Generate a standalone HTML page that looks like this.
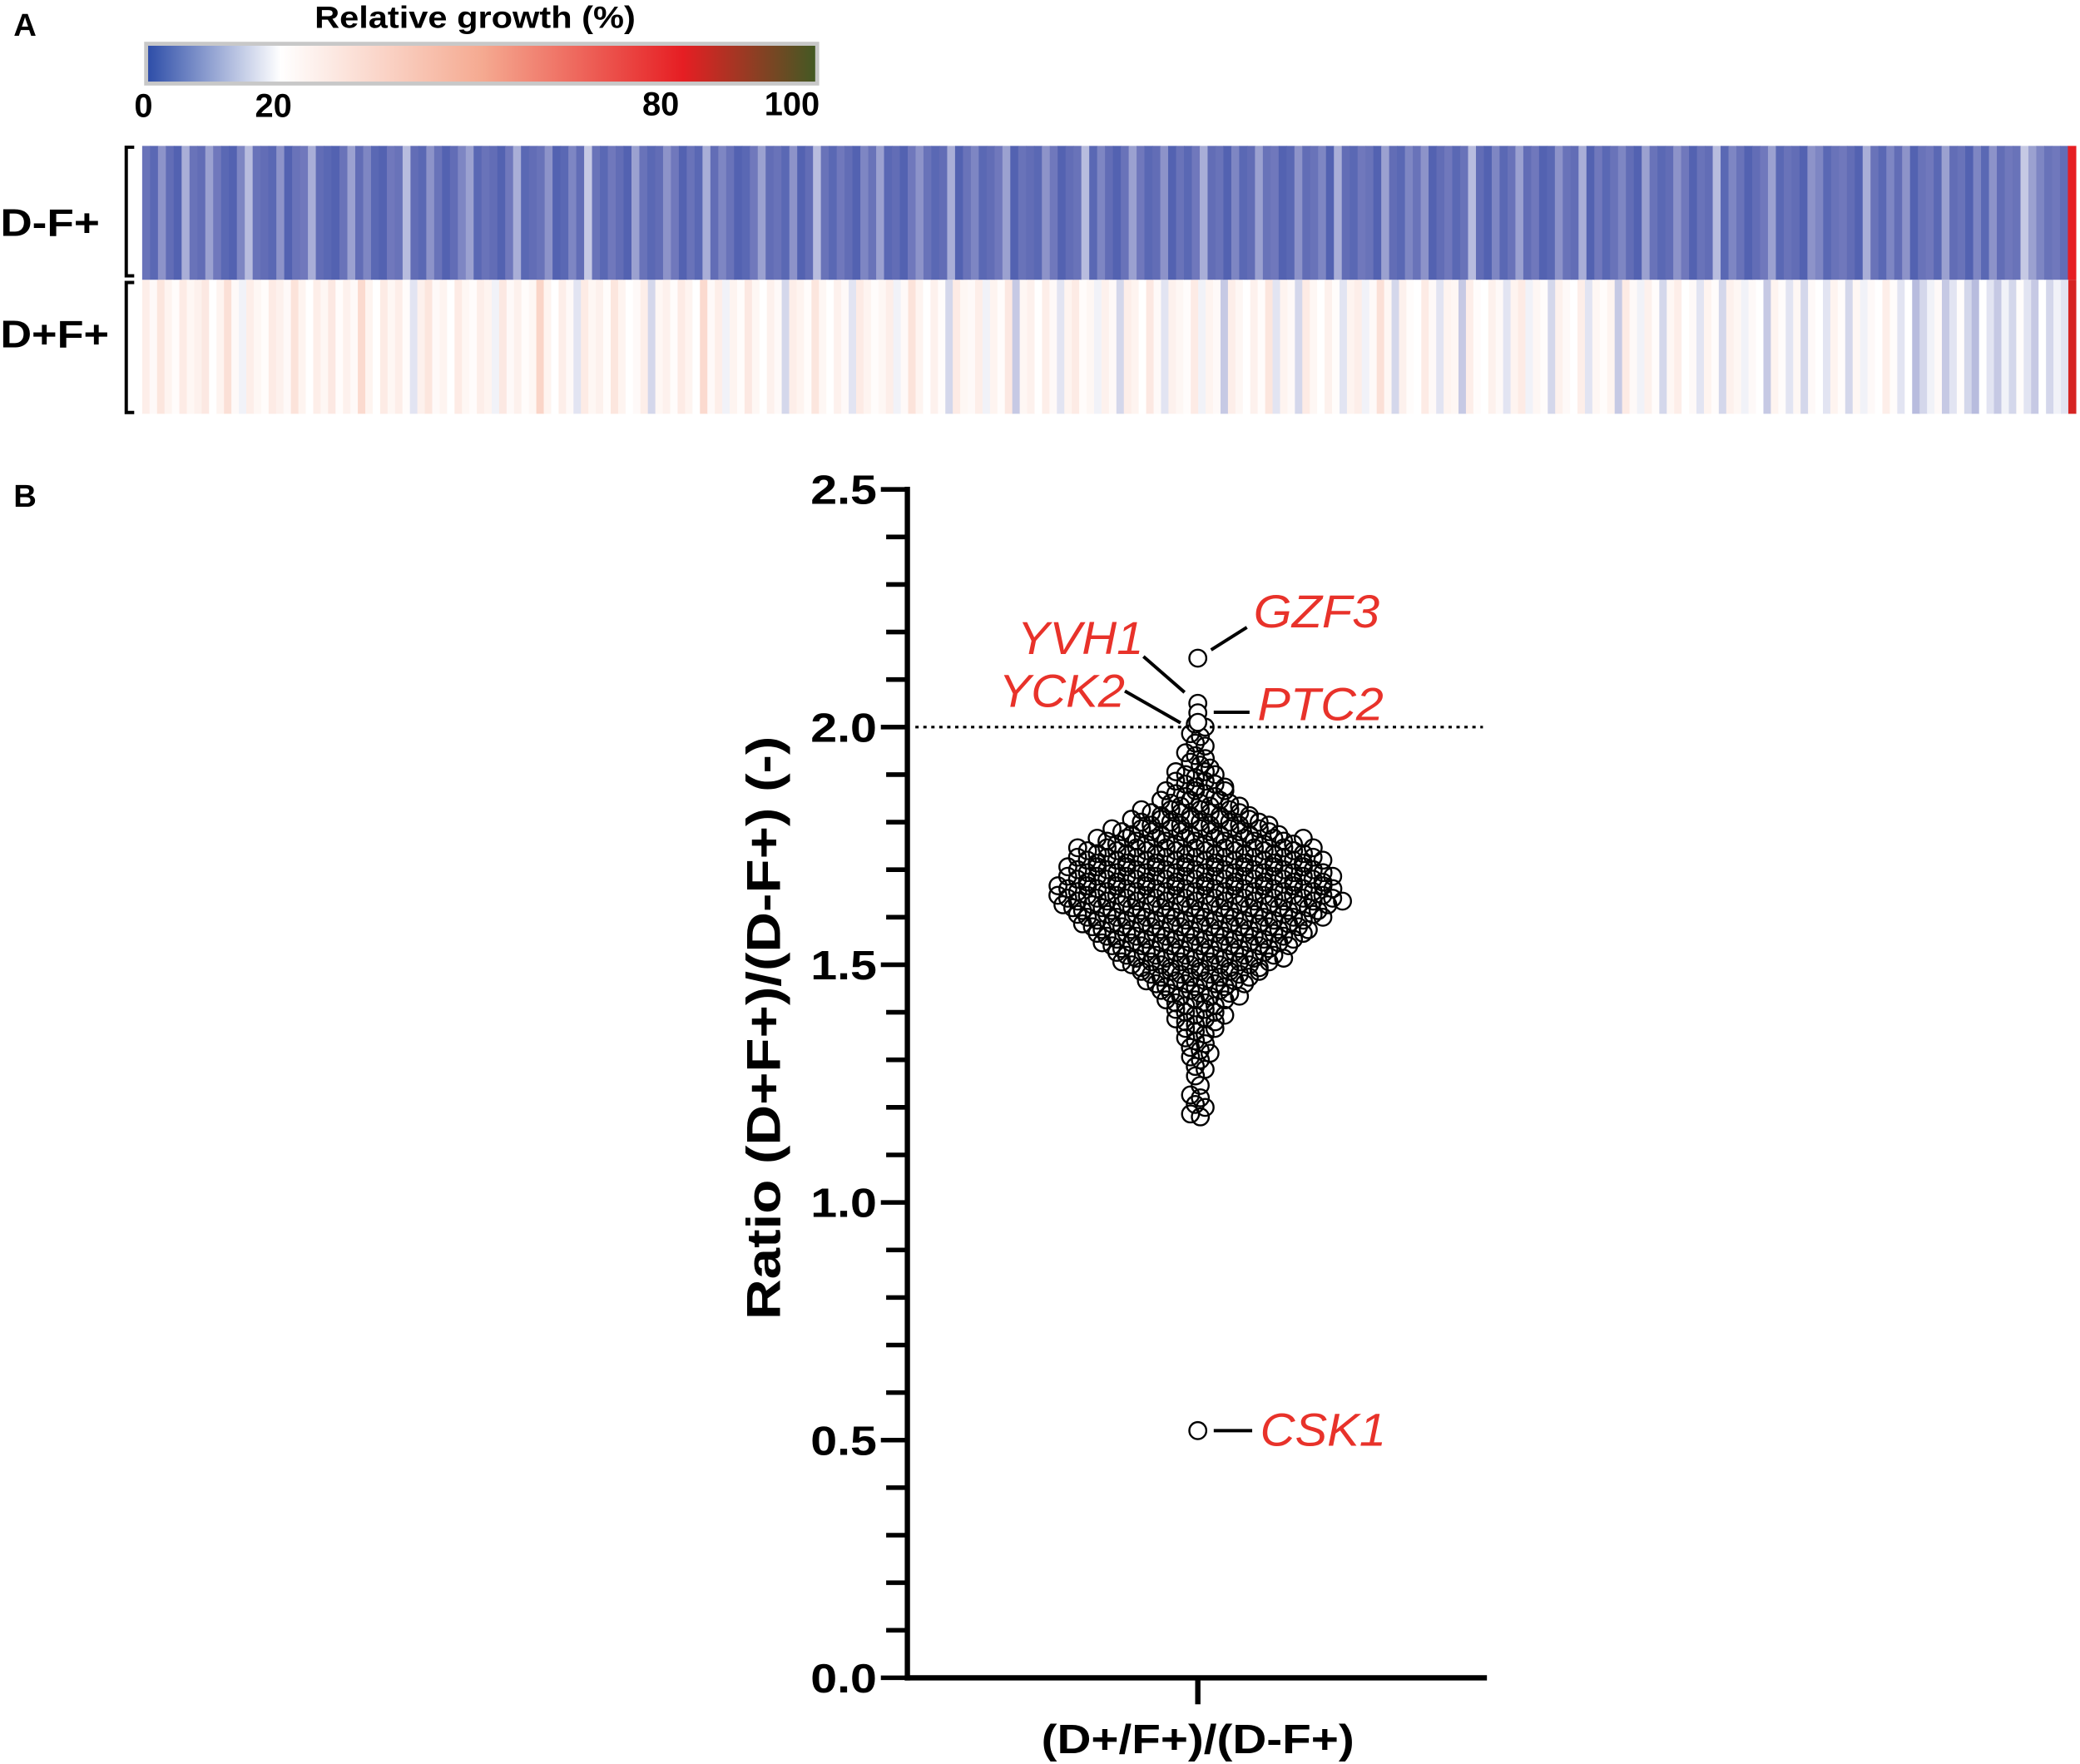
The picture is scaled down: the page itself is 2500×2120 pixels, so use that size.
<!DOCTYPE html>
<html><head><meta charset="utf-8"><style>
html,body{margin:0;padding:0;background:#fff}
svg{display:block}
text{font-family:"Liberation Sans",sans-serif}
</style></head><body>
<svg id="fig" width="2500" height="2120" viewBox="0 0 1568 1330" xmlns="http://www.w3.org/2000/svg">
<defs>
<linearGradient id="cbar" x1="0" x2="1" y1="0" y2="0">
<stop offset="0" stop-color="#2b4ba7"/><stop offset="0.2" stop-color="#ffffff"/><stop offset="0.5" stop-color="#f5aa91"/><stop offset="0.8" stop-color="#e61e23"/><stop offset="1" stop-color="#415a23"/>
</linearGradient>
</defs>
<text x="10" y="27" font-size="24" font-weight="bold">A</text>
<text x="358" y="21" font-size="23" font-weight="bold" text-anchor="middle" textLength="242" lengthAdjust="spacingAndGlyphs">Relative growth (%)</text>
<rect x="110" y="33" width="506" height="30" fill="url(#cbar)" stroke="#c8c8c8" stroke-width="3"/>
<g font-size="25" font-weight="bold" text-anchor="middle">
<text x="108" y="88">0</text><text x="206" y="88">20</text><text x="498" y="87">80</text><text x="597" y="87">100</text>
</g>
<g id="heat"></g>
<g stroke="#000" stroke-width="2.5" fill="none">
<path d="M101,111 H95 V208 H101"/><path d="M101,213 H95 V311 H101"/>
</g>
<text x="0" y="178" font-size="29" font-weight="bold" textLength="75" lengthAdjust="spacingAndGlyphs">D-F+</text>
<text x="0" y="262" font-size="29" font-weight="bold" textLength="82" lengthAdjust="spacingAndGlyphs">D+F+</text>

<text x="10" y="382" font-size="24" font-weight="bold">B</text>
<g id="axes"></g>
<g id="swarm"></g>
<g id="ann"></g>
<text transform="translate(588,775) rotate(-90)" font-size="36" font-weight="bold" text-anchor="middle" textLength="440" lengthAdjust="spacingAndGlyphs">Ratio (D+F+)/(D-F+) (-)</text>
<text x="903" y="1322" font-size="31" font-weight="bold" text-anchor="middle" textLength="236" lengthAdjust="spacingAndGlyphs">(D+/F+)/(D-F+)</text>
</svg>
<script>
const heatRowDF=[9,7,12,8,6,14,9,8,13,10,7,6,11,15,9,8,7,12,6,9,10,14,8,7,6,9,13,8,11,7,6,10,9,15,8,7,12,9,6,8,11,13,7,9,8,6,10,14,7,8,9,12,6,7,11,8,16,9,7,10,8,6,13,9,7,8,12,10,6,9,7,14,8,11,9,6,7,10,13,8,9,7,12,6,8,15,9,7,10,8,6,11,9,13,7,8,6,10,12,9,7,8,14,6,9,11,7,8,10,13,6,9,8,7,12,10,6,8,9,15,7,11,8,6,9,13,10,7,8,12,6,9,7,10,14,8,9,6,11,7,8,13,9,10,6,7,12,8,9,11,6,14,8,7,10,9,6,13,8,7,11,9,12,6,8,10,7,9,15,8,6,11,7,9,13,8,10,6,7,12,9,8,14,6,10,7,9,11,8,6,13,9,7,8,12,10,6,9,8,15,7,11,9,6,8,10,13,7,9,8,6,12,11,7,9,10,8,6,14,9,7,11,8,12,6,9,10,7,13,8,9,6,11,7,12,8,10,9,16,13,11,9,10,8,80];
const heatRowDpF=[26,22,29,24,21,27,23,25,28,20,24,31,22,19,26,23,21,27,25,22,30,24,20,26,23,28,21,25,22,33,24,20,27,23,26,21,18,25,29,22,24,20,27,23,21,26,24,19,28,22,25,21,23,35,24,20,26,22,18,27,23,25,21,29,24,20,22,26,17,23,25,21,27,24,20,33,22,26,19,24,21,28,23,20,25,22,17,26,24,21,29,23,20,25,22,18,27,24,21,23,26,19,22,30,24,20,25,21,17,27,23,22,26,19,24,21,28,16,23,25,20,26,22,18,24,27,21,23,19,25,22,17,26,24,20,28,22,18,25,23,21,27,19,24,22,16,26,23,20,25,21,29,18,24,22,17,27,23,20,25,21,18,24,26,19,22,31,23,17,25,21,20,27,22,18,24,23,16,26,21,20,25,22,18,24,27,19,23,21,17,25,22,20,26,18,23,21,24,16,27,22,19,25,21,17,23,26,20,22,18,24,21,17,25,23,19,22,20,16,24,21,18,23,17,22,20,18,24,21,17,23,19,22,20,26,21,18,20,15,17,19,22,16,18,21,17,15,20,18,16,19,17,21,18,16,20,17,19,18,82];
const binValues=[1.18,1.20,1.22,1.24,1.26,1.28,1.30,1.32,1.34,1.36,1.38,1.40,1.42,1.44,1.46,1.48,1.50,1.52,1.54,1.56,1.58,1.60,1.62,1.64,1.66,1.68,1.70,1.72,1.74,1.76,1.78,1.80,1.82,1.84,1.86,1.88,1.90,1.92,1.94,1.96,1.98,2.00];
const binCounts=[2,2,2,1,1,2,2,3,3,4,5,6,7,9,11,13,16,18,20,22,24,26,28,30,29,28,27,26,25,22,18,15,12,9,7,6,5,3,3,2,2,2];
const labeledNames=["GZF3","YVH1","PTC2","YCK2","CSK1"];
const labeledValues=[2.145,2.05,2.03,2.01,0.52];
const yTickLabels=["0.0","0.5","1.0","1.5","2.0","2.5"];
const yTickValues=[0,0.5,1,1.5,2,2.5];

const NS="http://www.w3.org/2000/svg";
function mk(tag,attrs,parent){const e=document.createElementNS(NS,tag);for(const k in attrs)e.setAttribute(k,attrs[k]);parent.appendChild(e);return e;}
const stops=[[0,[40,65,160]],[10,[112,120,188]],[20,[255,255,255]],[50,[245,170,145]],[80,[230,30,35]],[100,[65,90,35]]];
function color(v){for(let i=1;i<stops.length;i++){if(v<=stops[i][0]){const a=stops[i-1],b=stops[i],t=(v-a[0])/(b[0]-a[0]);const c=a[1].map((x,j)=>Math.round(x+(b[1][j]-x)*t));return `rgb(${c})`;}}return 'rgb(65,90,35)';}
const heat=document.getElementById('heat');
const hx0=107,hx1=1565;
[[heatRowDF,110,'heat-cell-d-f'],[heatRowDpF,211,'heat-cell-d+f']].forEach(([row,y0,name])=>{
 const cw=(hx1-hx0)/row.length;
 row.forEach((v,i)=>{
  const r=mk('rect',{x:hx0+i*cw,y:y0,width:cw+0.4,height:101,fill:color(v)},heat);
  
  
 });
});
const ax=document.getElementById('axes');
const X0=684,Y0=1265,Y25=369;
const yScale=v=>Y0-(v/2.5)*(Y0-Y25);
const xc=903;
mk('line',{x1:X0,y1:Y25-2,x2:X0,y2:Y0+2,stroke:'#000','stroke-width':4},ax);
mk('line',{x1:X0-2,y1:Y0,x2:1121,y2:Y0,stroke:'#000','stroke-width':4},ax);
mk('line',{x1:xc,y1:Y0,x2:xc,y2:Y0+20,stroke:'#000','stroke-width':4},ax);
for(let k=0;k<=25;k++){const y=yScale(k/10);const major=k%5===0;mk('line',{x1:major?664:668,y1:y,x2:X0,y2:y,stroke:'#000','stroke-width':3.5},ax);}
yTickValues.forEach((v,i)=>{const t=mk('text',{x:661,y:yScale(v)+11,'font-size':31,'font-weight':'bold','text-anchor':'end',textLength:50,lengthAdjust:'spacingAndGlyphs'},ax);t.textContent=yTickLabels[i];
 
 });
mk('line',{x1:690,y1:yScale(2),x2:1118,y2:yScale(2),stroke:'#000','stroke-width':2,'stroke-dasharray':'2.5,3.5'},ax);
const sw=document.getElementById('swarm');
binValues.forEach((v,b)=>{const c=binCounts[b];for(let i=0;i<c;i++){const x=xc+(i-(c-1)/2)*7.4+((b%2)?1.8:-1.8);
 const dy=((i%3)-1)*2.2;
 const e=mk('circle',{cx:x,cy:yScale(v)+dy,r:6.4,fill:'none',stroke:'#000','stroke-width':1.5},sw);
 
 }});
labeledValues.forEach((v,i)=>{const e=mk('circle',{cx:xc,cy:yScale(v),r:6.4,fill:'#fff',stroke:'#000','stroke-width':1.5},sw);
 
 });
const an=document.getElementById('ann');
const lab=[
 ["GZF3",945,473,'start',[913,490,940,473]],
 ["YVH1",862,493,'end',[862,495,893,522]],
 ["PTC2",948,543,'start',[915,537,942,537]],
 ["YCK2",848,533,'end',[848,521,890,545]],
 ["CSK1",950,1090,'start',[915,yScale(labeledValues[4]),944,yScale(labeledValues[4])]]];
lab.forEach(([s,x,y,anc,l])=>{
 mk('line',{x1:l[0],y1:l[1],x2:l[2],y2:l[3],stroke:'#000','stroke-width':2.5},an);
 const t=mk('text',{x:x,y:y,'font-size':35,'font-style':'italic',fill:'#e8322a','text-anchor':anc,textLength:95,lengthAdjust:'spacingAndGlyphs'},an);
 t.textContent=s;
 
 
});
</script>
</body></html>
